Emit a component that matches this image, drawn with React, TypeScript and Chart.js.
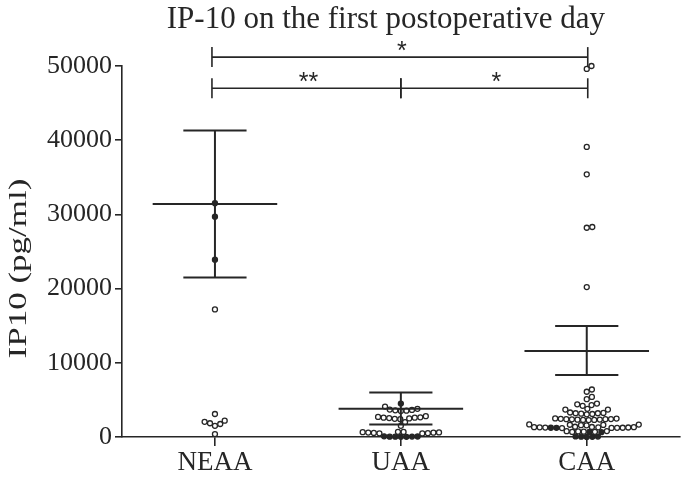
import React, { useEffect, useRef } from 'react';
import { Chart, registerables } from 'chart.js';

Chart.register(...registerables);

// ---------- data ----------
const categories = ['NEAA', 'UAA', 'CAA'];

const neaaFilled = [31500, 29700, 23900];
const neaaOpen = [17200, 3100, 2200, 2050, 1850, 1750, 1500, 400];

const uaaFilled = [4500, 90, 70, 50, 30, 60, 40, 20];
const uaaOpen = [
  4100, 3800, 3700, 3650, 3600, 3550, 3500,
  2800, 2700, 2650, 2600, 2600, 2550, 2500, 2450, 2400,
  2000, 1500,
  700, 680, 650, 620, 600, 580, 550, 520, 500, 480,
];

const caaFilled = [1250, 1230, 680, 650, 80, 60, 40, 20, 10];
const caaOpen = [
  50000, 49600, 39100, 35400, 28300, 28200, 20200,
  6400, 6100, 5400, 5100,
  4500, 4400, 4300, 4200,
  3800, 3700, 3700,
  3300, 3250, 3200, 3200, 3150, 3100, 3050,
  2500, 2480, 2450, 2420, 2400, 2400, 2380, 2350, 2330, 2300, 2300, 2280,
  1700, 1680, 1650, 1630, 1600, 1580,
  1380, 1350, 1330, 1320, 1300, 1300, 1280, 1270, 1250, 1240, 1220, 1200,
  800, 780, 750, 720, 700, 680,
];

const means = [31400, 3800, 11600];
const semUpper = [41300, 6000, 14950];
const semLower = [21500, 1700, 8350];

const yTicks = [0, 10000, 20000, 30000, 40000, 50000];

// significance brackets: [from, to] category pairs, drawn at a value level
const bracketFrom = [0, 0, 1];
const bracketTo = [2, 1, 2];
const bracketLevel = [51200, 47000, 47000];
const bracketLabel = ['*', '**', '*'];

const chartTitle = 'IP-10 on the first postoperative day';
const yTitle = 'IP10 (pg/ml)';

const filledByGroup = [neaaFilled, uaaFilled, caaFilled];
const openByGroup = [neaaOpen, uaaOpen, caaOpen];

// ---------- style ----------
const INK = '#262626';
const SERIF = '"Liberation Serif", "Times New Roman", serif';
const DOT_D = 5.6;

function layoutSwarm(chart: any) {
  const xs = chart.scales.x;
  const ys = chart.scales.y;
  const unit = xs.getPixelForValue(1) - xs.getPixelForValue(0);
  const openPts: any[] = [];
  const filledPts: any[] = [];
  categories.forEach((_, g) => {
    const pts = [
      ...filledByGroup[g].map((v) => ({ v, f: true })),
      ...openByGroup[g].map((v) => ({ v, f: false })),
    ];
    pts.sort((a, b) => a.v - b.v);
    const placed: { x: number; y: number }[] = [];
    pts.forEach((p) => {
      const py = ys.getPixelForValue(p.v);
      const intervals: [number, number][] = [];
      placed.forEach((q) => {
        const dy = Math.abs(q.y - py);
        if (dy < DOT_D) {
          const w = Math.sqrt(DOT_D * DOT_D - dy * dy);
          intervals.push([q.x - w, q.x + w]);
        }
      });
      const cands = [0];
      intervals.forEach(([a, b]) => cands.push(a, b));
      cands.sort((a, b) => Math.abs(a) - Math.abs(b) || b - a);
      let best = 0;
      for (const c of cands) {
        if (intervals.every(([a, b]) => c <= a + 1e-6 || c >= b - 1e-6)) {
          best = c;
          break;
        }
      }
      placed.push({ x: best, y: py });
      (p.f ? filledPts : openPts).push({ x: g + best / unit, y: p.v });
    });
  });
  chart.data.datasets[0].data = openPts;
  chart.data.datasets[1].data = filledPts;
  chart.update();
}

const overlay = {
  id: 'overlay',
  afterDatasetsDraw(chart: any) {
    const ctx = chart.ctx;
    const xs = chart.scales.x;
    const ys = chart.scales.y;
    const unit = xs.getPixelForValue(1) - xs.getPixelForValue(0);
    const seg = (x1: number, y1: number, x2: number, y2: number) => {
      ctx.beginPath();
      ctx.moveTo(x1, y1);
      ctx.lineTo(x2, y2);
      ctx.stroke();
    };
    ctx.save();
    ctx.strokeStyle = INK;
    ctx.lineWidth = 2;
    means.forEach((m, g) => {
      const cx = xs.getPixelForValue(g);
      const ym = ys.getPixelForValue(m);
      const yu = ys.getPixelForValue(semUpper[g]);
      const yl = ys.getPixelForValue(semLower[g]);
      const mw = unit * 0.335;
      const cw = unit * 0.17;
      seg(cx - mw, ym, cx + mw, ym);
      seg(cx - cw, yu, cx + cw, yu);
      seg(cx - cw, yl, cx + cw, yl);
      seg(cx, yu, cx, yl);
    });
    // significance brackets
    const last = categories.length - 1;
    const endX = (c: number) => xs.getPixelForValue(c) + (c === 0 ? -3 : c === last ? 1 : 0);
    ctx.lineWidth = 1.6;
    ctx.fillStyle = INK;
    ctx.font = '25px "Liberation Sans", sans-serif';
    ctx.textAlign = 'center';
    ctx.textBaseline = 'alphabetic';
    bracketFrom.forEach((from, i) => {
      const x1 = endX(from);
      const x2 = endX(bracketTo[i]);
      const y = ys.getPixelForValue(bracketLevel[i]);
      seg(x1, y, x2, y);
      seg(x1, y - 10, x1, y + 10);
      seg(x2, y - 10, x2, y + 10);
      ctx.fillText(bracketLabel[i], (x1 + x2) / 2 + 2, y + 2);
    });
    ctx.restore();
  },
  afterDraw(chart: any) {
    const ctx = chart.ctx;
    const area = chart.chartArea;
    ctx.save();
    ctx.fillStyle = INK;
    ctx.font = `31px ${SERIF}`;
    ctx.textAlign = 'center';
    ctx.textBaseline = 'alphabetic';
    ctx.fillText(chartTitle, (area.left + area.right) / 2 - 15, 28);
    ctx.font = `25px ${SERIF}`;
    ctx.translate(19, (area.top + area.bottom) / 2 + 17);
    ctx.rotate(-Math.PI / 2);
    ctx.scale(1.4, 1);
    ctx.textBaseline = 'middle';
    ctx.fillText(yTitle, 0, 0);
    ctx.restore();
  },
};

export default function App() {
  const ref = useRef<HTMLCanvasElement | null>(null);
  useEffect(() => {
    if (!ref.current) return;
    const pointCommon = {
      showLine: false,
      pointRadius: 2.5,
      pointBorderWidth: 1.3,
      pointBorderColor: INK,
      clip: false as any,
    };
    const chart = new Chart(ref.current, {
      type: 'scatter',
      data: {
        datasets: [
          {
            ...pointCommon,
            label: 'open',
            data: [],
            pointBackgroundColor: '#ffffff',
            backgroundColor: '#ffffff',
            borderColor: INK,
          },
          {
            ...pointCommon,
            label: 'filled',
            data: [],
            pointBackgroundColor: INK,
            backgroundColor: INK,
            borderColor: INK,
          },
        ],
      },
      options: {
        animation: false,
        responsive: true,
        maintainAspectRatio: false,
        layout: { padding: { top: 66, right: 4, left: 0, bottom: 0 } },
        plugins: {
          legend: { display: false },
          tooltip: { enabled: false },
          title: { display: false },
        },
        scales: {
          x: {
            type: 'linear',
            min: -0.5,
            max: 2.5,
            afterBuildTicks: (s: any) => {
              s.ticks = categories.map((_, i) => ({ value: i }));
            },
            afterFit: (s: any) => {
              s.height = 40;
            },
            ticks: {
              callback: (v: any) => categories[Math.round(Number(v))] ?? '',
              color: INK,
              font: { family: SERIF, size: 27 },
              padding: 1,
              maxRotation: 0,
            },
            grid: {
              drawOnChartArea: false,
              drawTicks: true,
              tickLength: 9,
              color: INK,
              lineWidth: 1.6,
            },
            border: { display: true, color: INK, width: 1.6 },
          },
          y: {
            type: 'linear',
            min: 0,
            max: 50000,
            afterBuildTicks: (s: any) => {
              s.ticks = yTicks.map((v) => ({ value: v }));
            },
            afterFit: (s: any) => {
              s.width = 122;
            },
            ticks: {
              color: INK,
              font: { family: SERIF, size: 26 },
              padding: 3,
              callback: (v: any) => String(v),
            },
            grid: {
              drawOnChartArea: false,
              drawTicks: true,
              tickLength: 7,
              color: INK,
              lineWidth: 1.6,
            },
            border: { display: true, color: INK, width: 1.6 },
          },
        },
      },
      plugins: [overlay],
    });
    layoutSwarm(chart);
    return () => chart.destroy();
  }, []);
  return (
    <div style={{ position: 'fixed', left: 0, top: 0, width: 685, height: 477, background: '#fff' }}>
      <canvas ref={ref} />
    </div>
  );
}
